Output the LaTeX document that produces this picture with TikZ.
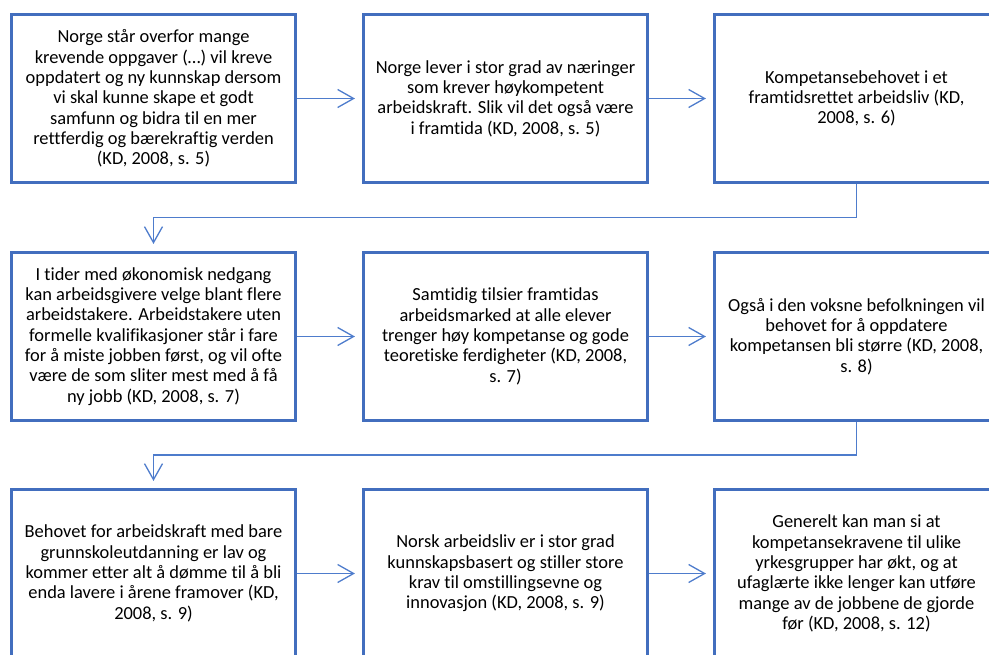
\documentclass[tikz,border=0pt]{standalone}
\usepackage{fontspec}
\setmainfont{Carlito}[Ligatures=NoCommon]
\usetikzlibrary{arrows.meta}
\definecolor{boxblue}{RGB}{66,110,190}
\definecolor{linkblue}{RGB}{78,124,204}
\tikzset{
  stepbox/.style={draw=boxblue, line width=2.6bp, fill=white, align=center,
    minimum width=284.5bp, minimum height=168.5bp, inner sep=2bp,
    text=black, font=\fontsize{18.5}{20.4}\selectfont},
  link/.style={draw=linkblue, line width=1.3bp,
    -{Straight Barb[length=16bp,width=18bp]}, shorten >=7bp}
}
\begin{document}
\begin{tikzpicture}[x=1bp,y=-1bp]
\useasboundingbox (0,0) rectangle (989,655);
\clip (0,0) rectangle (989,655);
% row 1
\node[stepbox] (a1) at (153.5,98.5) {Norge står overfor mange\\krevende oppgaver (…) vil kreve\\oppdatert og ny kunnskap dersom\\vi skal kunne skape et godt\\samfunn og bidra til en mer\\rettferdig og bærekraftig verden\\(KD, 2008, s. 5)};
\node[stepbox] (a2) at (505.5,98.5) {Norge lever i stor grad av næringer\\som krever høykompetent\\arbeidskraft. Slik vil det også være\\i framtida (KD, 2008, s. 5)};
\node[stepbox] (a3) at (856.5,98.5) {Kompetansebehovet i et\\framtidsrettet arbeidsliv (KD,\\2008, s. 6)};
% row 2
\node[stepbox] (b1) at (153.5,336.5) {I tider med økonomisk nedgang\\kan arbeidsgivere velge blant flere\\arbeidstakere. Arbeidstakere uten\\formelle kvalifikasjoner står i fare\\for å miste jobben først, og vil ofte\\være de som sliter mest med å få\\ny jobb (KD, 2008, s. 7)};
\node[stepbox] (b2) at (505.5,336.5) {Samtidig tilsier framtidas\\arbeidsmarked at alle elever\\trenger høy kompetanse og gode\\teoretiske ferdigheter (KD, 2008,\\s. 7)};
\node[stepbox] (b3) at (856.5,336.5) {Også i den voksne befolkningen vil\\behovet for å oppdatere\\kompetansen bli større (KD, 2008,\\s. 8)};
% row 3
\node[stepbox] (c1) at (153.5,573.5) {Behovet for arbeidskraft med bare\\grunnskoleutdanning er lav og\\kommer etter alt å dømme til å bli\\enda lavere i årene framover (KD,\\2008, s. 9)};
\node[stepbox] (c2) at (505.5,573.5) {Norsk arbeidsliv er i stor grad\\kunnskapsbasert og stiller store\\krav til omstillingsevne og\\innovasjon (KD, 2008, s. 9)};
\node[stepbox] (c3) at (856.5,573.5) {Generelt kan man si at\\kompetansekravene til ulike\\yrkesgrupper har økt, og at\\ufaglærte ikke lenger kan utføre\\mange av de jobbene de gjorde\\før (KD, 2008, s. 12)};
% connectors
\draw[link] (a1) -- (a2);
\draw[link] (a2) -- (a3);
\draw[link] (a3.south) |- (153.5,217.3) -- (b1.north);
\draw[link] (b1) -- (b2);
\draw[link] (b2) -- (b3);
\draw[link] (b3.south) |- (153.5,455) -- (c1.north);
\draw[link] (c1) -- (c2);
\draw[link] (c2) -- (c3);
\end{tikzpicture}
\end{document}
